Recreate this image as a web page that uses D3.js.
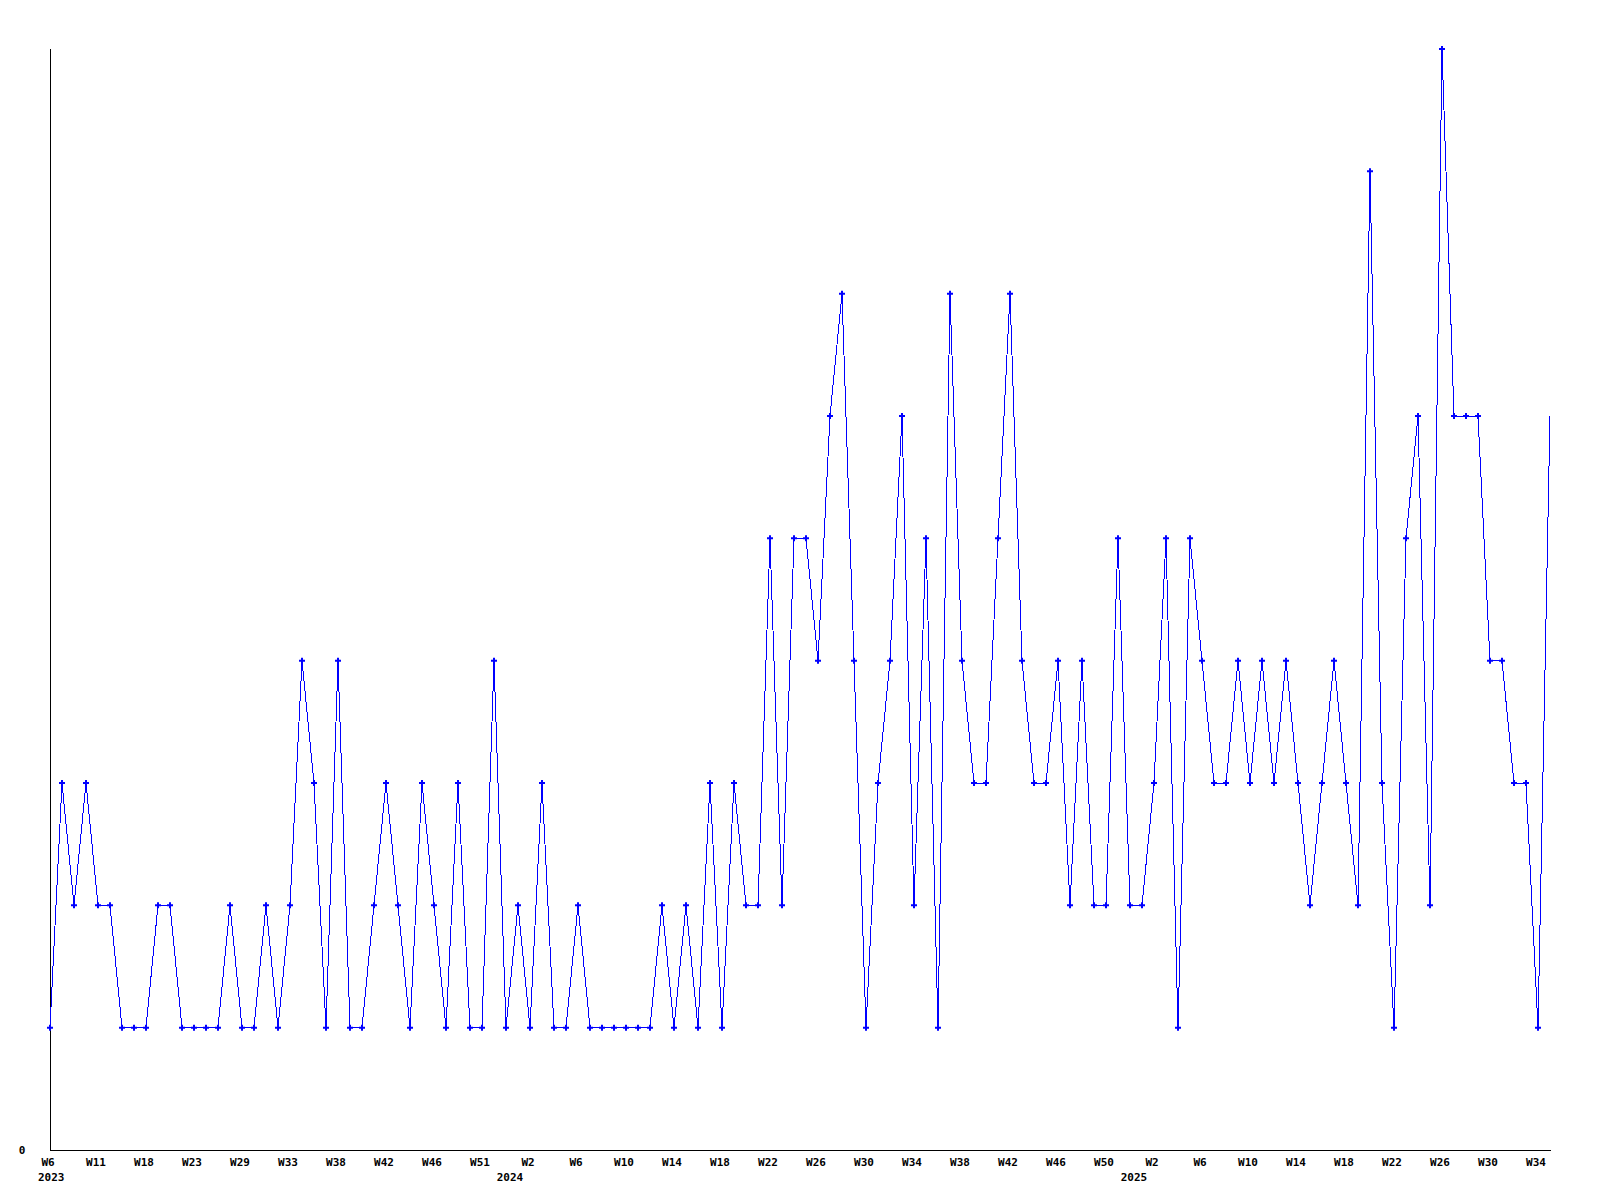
<!DOCTYPE html>
<html>
<head>
<meta charset="utf-8">
<script src="https://cdn.jsdelivr.net/npm/d3@7"></script>
<style>
  html, body { margin: 0; padding: 0; background: #fff; }
  svg { display: block; }
  text { font-family: "DejaVu Sans Mono", "Liberation Mono", monospace; font-weight: bold; font-size: 11px; fill: #000; }
</style>
</head>
<body>
<svg id="chart" width="1600" height="1200"></svg>
<script>
// Weekly values, one per data point (126 points, 2023 W6 .. 2025 W35)
const values = [
  1,3,2,3,2,2,1,1,1,2,
  2,1,1,1,1,2,1,1,2,1,
  2,4,3,1,4,1,1,2,3,2,
  1,3,2,1,3,1,1,4,1,2,
  1,3,1,1,2,1,1,1,1,1,
  1,2,1,2,1,3,1,3,2,2,
  5,2,5,5,4,6,7,4,1,3,
  4,6,2,5,1,7,4,3,3,5,
  7,4,3,3,4,2,4,2,2,5,
  2,2,3,5,1,5,4,3,3,4,
  3,4,3,4,3,2,3,4,3,2,
  8,3,1,5,6,2,9,6,6,6,
  4,4,3,3,1,6
];
// Tick labels, one every 4 points
const tickLabels = [
  "W6","W11","W18","W23","W29","W33","W38","W42","W46","W51",
  "W2","W6","W10","W14","W18","W22","W26","W30","W34","W38","W42","W46","W50",
  "W2","W6","W10","W14","W18","W22","W26","W30","W34"
];
const tickEvery = 4;
// Year labels and the point index where each year begins
const yearLabels = ["2023", "2024", "2025"];
const yearStarts = [0, 38.5, 90.5];
const yMax = 9;

const svg = d3.select("#chart");
const plotLeft = 50, plotRight = 1550, plotTop = 49, plotBottom = 1150;

const x = d3.scaleLinear().domain([0, values.length - 1]).range([plotLeft, plotRight]);
const y = d3.scaleLinear().domain([0, yMax]).range([plotBottom, plotTop]);

// axes lines
const g = svg.append("g");
g.append("line")
  .attr("x1", x(0) + 0.5).attr("x2", x(0) + 0.5)
  .attr("y1", y(yMax)).attr("y2", y(0) + 0.5)
  .attr("stroke", "#000").attr("stroke-width", 1).attr("shape-rendering", "crispEdges");
g.append("line")
  .attr("x1", x(0)).attr("x2", x(values.length - 1) + 1)
  .attr("y1", y(0) + 0.5).attr("y2", y(0) + 0.5)
  .attr("stroke", "#000").attr("stroke-width", 1).attr("shape-rendering", "crispEdges");

// y label "0"
svg.append("text")
  .attr("x", 22).attr("y", y(0))
  .attr("text-anchor", "middle").attr("dominant-baseline", "central")
  .text("0");

// x tick labels
svg.append("g").selectAll("text")
  .data(tickLabels)
  .join("text")
  .attr("x", (d, i) => x(i * tickEvery) - 2)
  .attr("y", y(0) + 12)
  .attr("text-anchor", "middle").attr("dominant-baseline", "central")
  .text(d => d);

// year labels
svg.append("g").selectAll("text")
  .data(yearLabels)
  .join("text")
  .attr("x", (d, i) => i === 0 ? x(yearStarts[i]) - 12 : x(yearStarts[i]) - 2)
  .attr("y", y(0) + 27)
  .attr("text-anchor", (d, i) => i === 0 ? "start" : "middle")
  .attr("dominant-baseline", "central")
  .text(d => d);

// line
const line = d3.line().x((d, i) => x(i)).y(d => y(d));
svg.append("path")
  .datum(values)
  .attr("d", line)
  .attr("fill", "none")
  .attr("stroke", "#0000ff")
  .attr("stroke-width", 1)
  .attr("shape-rendering", "crispEdges");

// markers (the final, still-open week has none)
const sym = d3.symbol().type(d3.symbolCross).size(20);
svg.append("g").selectAll("path")
  .data(values.slice(0, -1))
  .join("path")
  .attr("transform", (d, i) => `translate(${x(i)},${y(d)})`)
  .attr("d", sym)
  .attr("fill", "#0000ff");
</script>
</body>
</html>
